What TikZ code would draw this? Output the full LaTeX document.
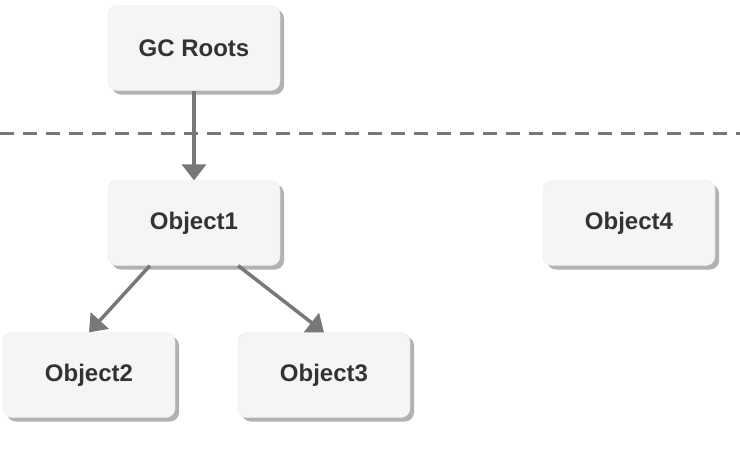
\documentclass[tikz,border=0pt]{standalone}
\usepackage{fontspec}
\setmainfont{Liberation Sans}
\usetikzlibrary{arrows.meta,positioning,shadows}
\definecolor{boxfill}{RGB}{245,245,245}
\definecolor{arrowgray}{RGB}{120,120,120}
\definecolor{textgray}{RGB}{51,51,51}
\tikzset{
	objbox/.style={fill=boxfill, draw=boxfill!95!black, line width=0.3pt, rounded corners=9pt,
			minimum width=172pt, minimum height=85pt, font=\bfseries\fontsize{24}{28}\selectfont, text=textgray,
			drop shadow={shadow xshift=4pt, shadow yshift=-4pt, fill=black!30, opacity=1}},
	refarrow/.style={draw=arrowgray, line width=3.5pt, -{Triangle[length=16pt, width=24pt]}}
}
\begin{document}
\begin{tikzpicture}[x=1pt, y=-1pt]
	\useasboundingbox (0,0) rectangle (740,450);
	\node[objbox] (roots) at (194,48) {GC Roots};
	\node[objbox] (obj1) at (194,223) {Object1};
	\node[objbox] (obj4) at (629,223) {Object4};
	\node[objbox] (obj2) at (89,375) {Object2};
	\node[objbox] (obj3) at (324,375) {Object3};
	% boundary of the roots
	\draw[draw=arrowgray, line width=3pt, dash pattern=on 14pt off 9pt] (0,133) -- (740,133);
	\draw[refarrow] (roots) -- (obj1);
	\draw[refarrow] (obj1.south west) ++(42,0) coordinate (o1a) (o1a) -- (obj2.north);
	\draw[refarrow] (obj1.south east) ++(-42,0) coordinate (o1b) (o1b) -- (obj3.north);
\end{tikzpicture}
\end{document}
